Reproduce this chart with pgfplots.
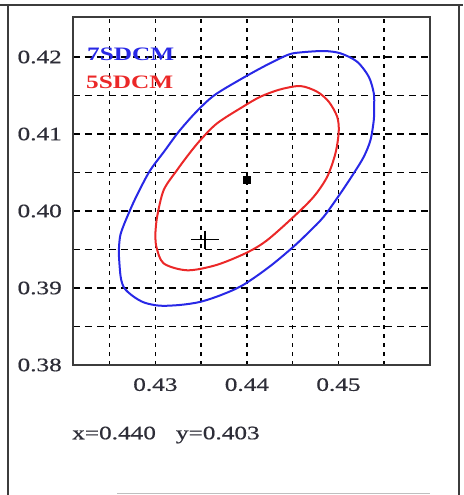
\documentclass[border=0pt]{standalone}
\usepackage{fontspec}
\setmainfont{Liberation Serif}[FakeStretch=1.33]
\newfontfamily\labelfont{Liberation Serif}[FakeStretch=1.33, FakeBold=0.6]
\usepackage{pgfplots}
\pgfplotsset{compat=1.18}

\definecolor{ticktext}{RGB}{45,45,55}
\definecolor{frame}{RGB}{60,60,60}
\definecolor{ellblue}{RGB}{40,40,230}
\definecolor{ellred}{RGB}{235,40,40}

\begin{document}
\begin{tikzpicture}
\useasboundingbox (-73pt,-130pt) rectangle (390pt,365pt);
% outer frame
\draw[frame, line width=1.8pt] (-73pt,360pt) -- (390pt,360pt);
\draw[frame, line width=1.8pt] (-65pt,360pt) -- (-65pt,-131pt);
\draw[frame, line width=1.8pt] (386pt,360pt) -- (386pt,-131pt);
\draw[lightgray, line width=1pt] (44pt,-128pt) -- (357pt,-128pt);

\begin{axis}[
    scale only axis,
    width=357pt, height=348pt,
    xmin=0.421, xmax=0.460,
    ymin=0.38, ymax=0.4252,
    xtick={0.425,0.43,0.435,0.44,0.445,0.45,0.455},
    xticklabels={,0.43,,0.44,,0.45,},
    ytick={0.38,0.385,0.39,0.395,0.40,0.405,0.41,0.415,0.42},
    yticklabels={0.38,,0.39,,0.40,,0.41,,0.42},
    major tick length=0pt,
    grid=major,
    grid style={black, line width=1.6pt},
    every axis x grid/.append style={dash pattern=on 4pt off 5pt},
    every axis y grid/.append style={dash pattern=on 7pt off 5pt},
    axis line style={frame, line width=2.2pt},
    tick label style={font=\labelfont\fontsize{19}{21}\selectfont, text=ticktext, inner sep=0pt},
    xticklabel shift=13pt,
    yticklabel shift=11pt,
]
% 7SDCM contour
\addplot[ellblue, line width=2pt, smooth, tension=0.5] coordinates {
(0.4260,0.3945)(0.4262,0.3970)(0.4273,0.4003)(0.4283,0.4028)(0.42945,0.40532)
(0.4310,0.4078)(0.43255,0.4103)(0.43440,0.41280)(0.43640,0.41500)(0.43930,0.41710)
(0.44221,0.41900)(0.44451,0.42030)(0.44585,0.42060)(0.44839,0.42078)(0.45022,0.42048)
(0.45204,0.41939)(0.45331,0.41744)(0.45386,0.41529)(0.45390,0.41350)(0.45386,0.41182)
(0.45350,0.40922)(0.45277,0.40705)(0.45167,0.40490)(0.45022,0.40230)(0.44839,0.39926)
(0.44680,0.39730)(0.44508,0.39536)(0.44250,0.39280)(0.43960,0.39040)(0.43720,0.38910)
(0.43490,0.38820)(0.43270,0.38780)(0.43050,0.38770)(0.42880,0.38810)(0.42760,0.38890)
(0.42660,0.39000)(0.42620,0.39150)(0.42600,0.39450)
};
% 5SDCM contour
\addplot[ellred, line width=2pt, smooth, tension=0.5] coordinates {
(0.43000,0.39710)(0.43019,0.39926)(0.43091,0.40273)(0.43237,0.40532)(0.43360,0.40730)
(0.43492,0.40922)(0.43674,0.41139)(0.43950,0.41350)(0.44148,0.41485)(0.44366,0.41580)
(0.44585,0.41623)(0.44767,0.41549)(0.44894,0.41420)(0.44986,0.41225)(0.45003,0.41030)
(0.44967,0.40749)(0.44877,0.40445)(0.44730,0.40186)(0.44511,0.39926)(0.44220,0.39620)
(0.44000,0.39460)(0.43670,0.39300)(0.43350,0.39230)(0.43090,0.39320)(0.43010,0.39540)
(0.43000,0.39710)
};
% centre point
\addplot[only marks, mark=square*, mark size=3.5pt, black] coordinates {(0.4400,0.4041)};
% reference point
\addplot[only marks, mark=+, mark size=9pt, black, mark options={xscale=1.55, line width=1.5pt}]
    coordinates {(0.4354,0.3963)};
\end{axis}

\node[anchor=west, inner sep=0pt, text=ellblue, font=\fontsize{19}{21}\selectfont\bfseries] at (14pt,311pt) {7SDCM};
\node[anchor=west, inner sep=0pt, text=ellred, font=\fontsize{19}{21}\selectfont\bfseries] at (13pt,283pt) {5SDCM};
\node[anchor=west, inner sep=0pt, text=ticktext, font=\labelfont\fontsize{19}{21}\selectfont] at (-1pt,-70pt)
    {x=0.440\hspace{20pt}y=0.403};
\end{tikzpicture}
\end{document}
